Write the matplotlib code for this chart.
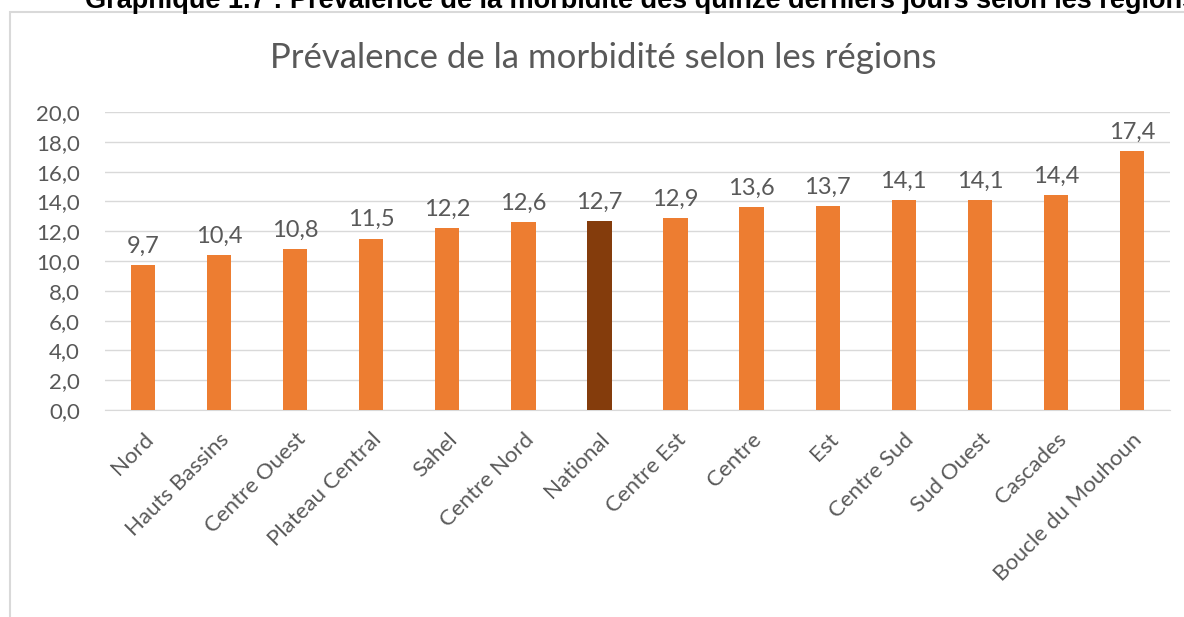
import matplotlib
matplotlib.use("Agg")
from matplotlib import pyplot as plt
from matplotlib.patches import Rectangle

regions = [
    "Nord", "Hauts Bassins", "Centre Ouest", "Plateau Central", "Sahel",
    "Centre Nord", "National", "Centre Est", "Centre", "Est", "Centre Sud",
    "Sud Ouest", "Cascades", "Boucle du Mouhoun",
]
prevalence = [9.7, 10.4, 10.8, 11.5, 12.2, 12.6, 12.7, 12.9, 13.6, 13.7,
              14.1, 14.1, 14.4, 17.4]
yticks = [0, 2, 4, 6, 8, 10, 12, 14, 16, 18, 20]

ORANGE = "#ED7D31"
DARK = "#843C0C"
TEXT = "#595959"
GRID = "#D9D9D9"

plt.rcParams["font.family"] = ["Lato", "DejaVu Sans"]

fig = plt.figure(figsize=(11.84, 6.17), dpi=100)

# chart frame, cut by the page edge like in the source
fig.patches.append(Rectangle((10 / 1184, -0.1), 1.2, 1 - 12 / 617 + 0.1,
                             transform=fig.transFigure, fill=False,
                             edgecolor=GRID, linewidth=1.5))

# caption partially cropped at the top
fig.text(85 / 1184, 1 - 8.5 / 617, "Graphique 1.7 : Prévalence de la morbidité des "
         "quinze derniers jours selon les régions",
         family="Liberation Sans", fontweight="bold", fontsize=19.5,
         va="baseline", ha="left")

ax = fig.add_axes([105 / 1184, 1 - 410 / 617, 1065 / 1184, 298 / 617])
colors = [DARK if r == "National" else ORANGE for r in regions]
x = range(len(regions))
ax.bar(x, prevalence, width=0.32, color=colors, zorder=3)

for i, v in enumerate(prevalence):
    ax.annotate(f"{v:.1f}".replace(".", ","), (i, v), xytext=(0, 6),
                textcoords="offset points", ha="center", va="bottom",
                fontsize=17, color=TEXT)

ax.set_xlim(-0.5, len(regions) - 0.5)
ax.set_ylim(0, 20)
ax.set_yticks(yticks)
ax.set_yticklabels([f"{t:.1f}".replace(".", ",") for t in yticks],
                   fontsize=16, color=TEXT)
ax.yaxis.grid(True, color=GRID, linewidth=1, zorder=0)
ax.set_xticks(list(x))
ax.set_xticklabels(regions, rotation=45, ha="right", rotation_mode="anchor",
                   fontsize=16, color=TEXT)
ax.tick_params(axis="both", length=0)
ax.tick_params(axis="y", pad=18)
ax.tick_params(axis="x", pad=14)
for side in ("top", "right", "left"):
    ax.spines[side].set_visible(False)
ax.spines["bottom"].set_color(GRID)

fig.text(603 / 1184, 1 - 58 / 617, "Prévalence de la morbidité selon les régions",
         ha="center", va="center", fontsize=25, color=TEXT)

fig.savefig("out.png", dpi=100)
